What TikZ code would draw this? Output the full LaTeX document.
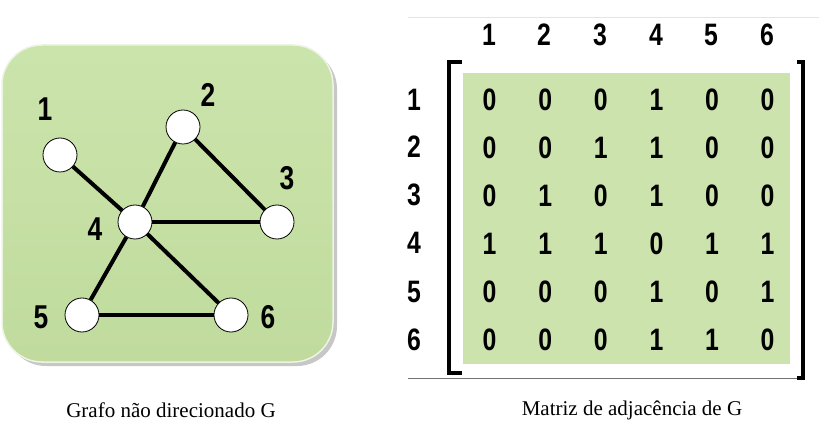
\documentclass[tikz,border=0pt]{standalone}
\usepackage{fontspec}
\setmainfont{Liberation Serif}
\newfontfamily\digfont{Liberation Sans}
\definecolor{boxgreen}{HTML}{C0DB9D}
\definecolor{boxlight}{HTML}{CBE4AC}
\definecolor{matgreen}{HTML}{CDE3AD}
\begin{document}
\begin{tikzpicture}[x=1pt,y=-1pt,
  vert/.style={circle,draw=black,line width=0.8pt,fill=white,minimum size=34pt,inner sep=0pt},
  edge/.style={line width=4pt},
  lab/.style={font=\digfont\bfseries\fontsize{33}{33}\selectfont,inner sep=0pt,xscale=0.8},
  cell/.style={font=\digfont\bfseries\fontsize{31}{31}\selectfont,inner sep=0pt,xscale=0.8},
  brk/.style={line width=3.8pt},
  captxt/.style={font=\fontsize{21}{21}\selectfont,inner sep=0pt}]
\useasboundingbox (0,0) rectangle (819,446);
% graph box
\fill[black!22,rounded corners=40pt] (6,49) rectangle (337,366);
\shade[rounded corners=40pt,top color=boxlight,bottom color=boxgreen,draw=white!70!boxgreen,line width=1.5pt]
  (2,45) rectangle (333,362);
\node[vert] (v1) at (60,155) {};
\node[vert] (v2) at (183,127) {};
\node[vert] (v3) at (277,222) {};
\node[vert] (v4) at (135,222) {};
\node[vert] (v5) at (82,315) {};
\node[vert] (v6) at (231,315) {};
\draw[edge] (v1) -- (v4);
\draw[edge] (v2) -- (v4);
\draw[edge] (v2) -- (v3);
\draw[edge] (v4) -- (v3);
\draw[edge] (v4) -- (v5);
\draw[edge] (v4) -- (v6);
\draw[edge] (v5) -- (v6);
\node[lab] (l1) at (45,109) {1};
\node[lab] (l2) at (208,95) {2};
\node[lab] (l3) at (287,178) {3};
\node[lab] (l4) at (95,229) {4};
\node[lab] (l5) at (41,317) {5};
\node[lab] (l6) at (268,317) {6};
% matrix
\draw[blue!12,line width=0.6pt] (408,17) -- (819,17);
\draw[black!55,line width=0.8pt] (408,378) -- (800,378);
\fill[matgreen] (463,73) rectangle (790,364);
\draw[brk] (462,62) -- (449,62) -- (449,373) -- (462,373);
\draw[brk] (797,62) -- (803,62) -- (803,378) -- (797,378);
\foreach \c [count=\i] in {489,544,600,656,711,767}
  \node[cell] (h\i) at (\c,35) {\i};
\foreach \r [count=\j] in {100,147,195,243,292,340}
  \node[cell] (r\j) at (414,\r) {\j};
\foreach \row [count=\j] in {{0,0,0,1,0,0},{0,0,1,1,0,0},{0,1,0,1,0,0},{1,1,1,0,1,1},{0,0,0,1,0,1},{0,0,0,1,1,0}}{
  \foreach \v [count=\i] in \row {
    \pgfmathsetmacro{\xx}{434+55.6*\i}
    \pgfmathsetmacro{\yy}{52+48*\j}
    \node[cell] (m\j\i) at (\xx,\yy) {\v};
  }
}
\node[captxt] (c1) at (171,410) {Grafo não direcionado G};
\node[captxt] (c2) at (632,410) {Matriz de adjacência de G};
\end{tikzpicture}
\end{document}
